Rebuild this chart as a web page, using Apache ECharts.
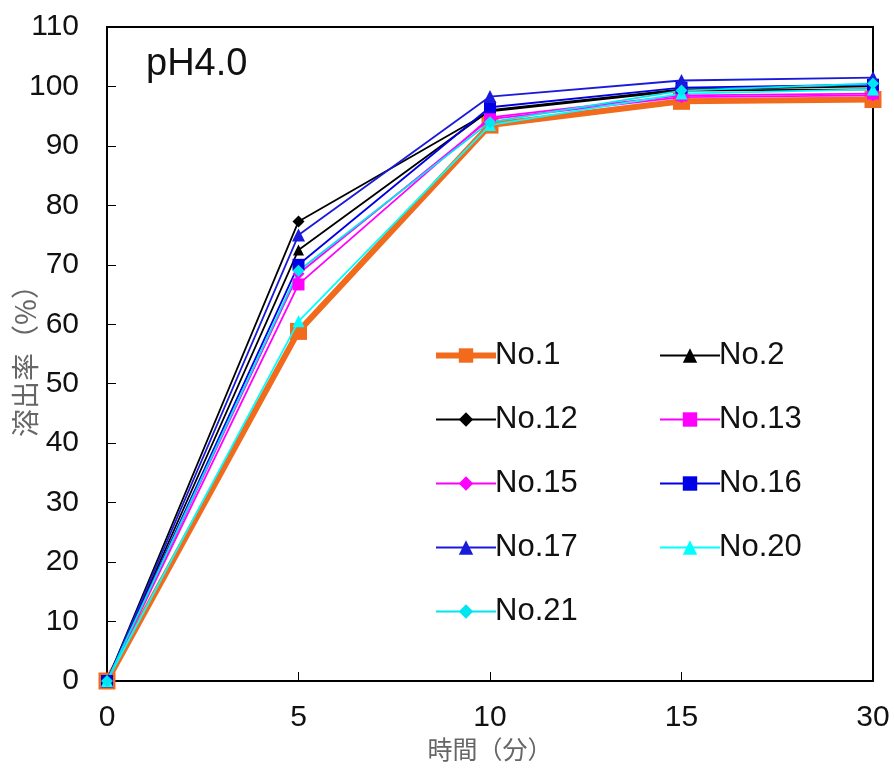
<!DOCTYPE html>
<html>
<head>
<meta charset="utf-8">
<script src="https://cdn.jsdelivr.net/npm/echarts@6/dist/echarts.min.js"></script>
<style>
  html, body { margin: 0; padding: 0; background: #fff; }
  #chart { width: 894px; height: 771px; }
</style>
</head>
<body>
<div id="chart"></div>
<script>
// 時間（分）
var times = ['0', '5', '10', '15', '30']
// 溶出率（%）
var no1 = [0, 58.8, 93.5, 97.5, 97.8]
var no2 = [0, 72.5, 96.0, 99.5, 100.0]
var no12 = [0, 77.3, 95.8, 99.3, 99.5]
var no13 = [0, 66.7, 94.8, 98.5, 98.8]
var no15 = [0, 68.5, 94.5, 98.2, 98.5]
var no16 = [0, 70.0, 96.5, 99.8, 100.3]
var no17 = [0, 75.0, 98.3, 101.0, 101.5]
var no20 = [0, 60.5, 93.5, 98.8, 99.5]
var no21 = [0, 69.0, 94.0, 99.3, 100.5]
var yTicks = [0, 110, 10] // min, max, interval

var font = 'Liberation Sans, Arial, sans-serif'

function line(name, data, color, symbol, size) {
  return {
    name: name,
    type: 'line',
    data: data,
    symbol: symbol,
    symbolSize: size,
    lineStyle: { color: color, width: 1.8 },
    itemStyle: { color: color },
    z: 3
  }
}

var chart = echarts.init(document.getElementById('chart'))
var legendText = { fontSize: 31, color: '#111', fontFamily: font, padding: [0, 0, 0, -6] }
chart.setOption({
  animation: false,
  grid: {
    left: 107, right: 21, top: 27, bottom: 90,
    outerBoundsMode: 'none',
    containLabel: false,
    show: true, borderColor: '#000', borderWidth: 2
  },
  graphic: [{
    type: 'text', left: 146, top: 46,
    style: { text: 'pH4.0', fontSize: 38, fill: '#111', fontFamily: font }
  }],
  legend: [{
    orient: 'vertical', left: 428, top: 335, itemWidth: 60, itemHeight: 18, itemGap: 33,
    textStyle: legendText,
    data: [{ name: 'No.1', lineStyle: { width: 6 } }, 'No.12', 'No.15', 'No.17', 'No.21']
  }, {
    orient: 'vertical', left: 654, top: 335, itemWidth: 60, itemHeight: 18, itemGap: 33,
    textStyle: legendText,
    data: ['No.2', 'No.13', 'No.16', 'No.20']
  }],
  xAxis: {
    type: 'category',
    data: times,
    boundaryGap: false,
    name: '時間（分）',
    nameLocation: 'middle',
    nameGap: 56,
    nameMoveOverlap: false,
    nameTextStyle: { fontSize: 25, color: '#666', fontFamily: 'Noto Sans CJK JP' },
    axisLine: { lineStyle: { color: '#000', width: 2 } },
    axisTick: { inside: true, length: 9, lineStyle: { color: '#000' } },
    axisLabel: { fontSize: 30, color: '#111', margin: 22, fontFamily: font },
    splitLine: { show: false }
  },
  yAxis: {
    type: 'value',
    min: yTicks[0], max: yTicks[1], interval: yTicks[2],
    name: '溶出率（%）',
    nameLocation: 'middle',
    nameGap: 68,
    nameMoveOverlap: false,
    nameTextStyle: { fontSize: 28, color: '#666', fontFamily: 'Noto Sans CJK JP' },
    axisLine: { show: true, lineStyle: { color: '#000', width: 2 } },
    axisTick: { show: true, inside: true, length: 9, lineStyle: { color: '#000' } },
    axisLabel: { fontSize: 30, color: '#111', margin: 28, fontFamily: font },
    splitLine: { show: false }
  },
  series: [
    {
      name: 'No.1', type: 'line', data: no1,
      symbol: 'rect', symbolSize: 17,
      lineStyle: { color: '#f26b1d', width: 6 },
      itemStyle: { color: '#f26b1d' },
      z: 2
    },
    line('No.2', no2, '#000000', 'triangle', 11),
    line('No.12', no12, '#000000', 'diamond', 12),
    line('No.13', no13, '#ff00ff', 'rect', 12),
    line('No.15', no15, '#ff00ff', 'diamond', 12),
    line('No.16', no16, '#0000e6', 'rect', 12),
    line('No.17', no17, '#1a1adc', 'triangle', 13),
    line('No.20', no20, '#00ffff', 'triangle', 12),
    line('No.21', no21, '#00e5ee', 'diamond', 12)
  ]
})
</script>
</body>
</html>
